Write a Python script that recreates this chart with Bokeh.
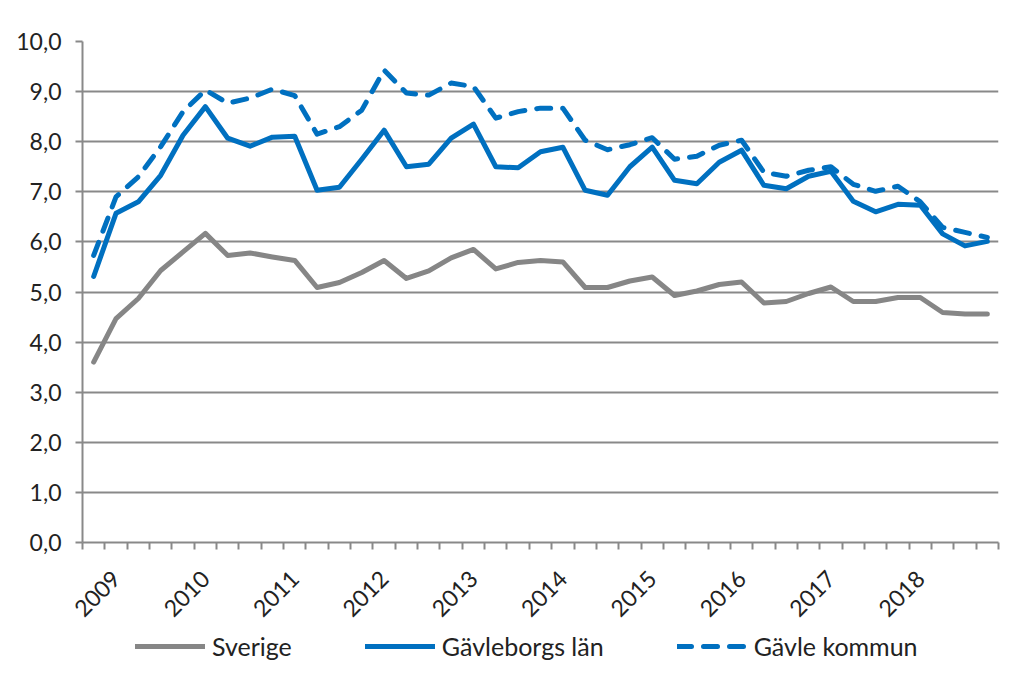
import math
from bokeh.plotting import figure
from bokeh.layouts import column
from bokeh.models import Range1d, FixedTicker, Legend, LegendItem
from bokeh.embed import file_html
from bokeh.resources import INLINE

# ---- data ----
years = ["2009", "2010", "2011", "2012", "2013", "2014", "2015", "2016", "2017", "2018"]
year_pos = [1, 5, 9, 13, 17, 21, 25, 29, 33, 37]
quarters = list(range(41))

sverige = [3.60, 4.47, 4.87, 5.43, 5.80, 6.17, 5.73, 5.78, 5.70, 5.63,
           5.09, 5.19, 5.39, 5.63, 5.27, 5.42, 5.68, 5.85, 5.46, 5.59,
           5.63, 5.60, 5.09, 5.09, 5.22, 5.30, 4.93, 5.02, 5.15, 5.20,
           4.78, 4.81, 4.97, 5.10, 4.81, 4.81, 4.89, 4.89, 4.59, 4.56, 4.56]
gavleborg = [5.31, 6.57, 6.80, 7.33, 8.13, 8.70, 8.07, 7.91, 8.09, 8.11,
             7.03, 7.09, 7.65, 8.23, 7.50, 7.55, 8.07, 8.35, 7.50, 7.48,
             7.80, 7.89, 7.03, 6.93, 7.50, 7.89, 7.23, 7.16, 7.59, 7.83,
             7.13, 7.06, 7.31, 7.41, 6.81, 6.60, 6.75, 6.73, 6.16, 5.92, 6.01]
gavle = [5.73, 6.90, 7.30, 7.90, 8.60, 9.03, 8.77, 8.87, 9.05, 8.92,
         8.15, 8.30, 8.63, 9.43, 8.97, 8.93, 9.17, 9.10, 8.47, 8.60,
         8.67, 8.67, 8.03, 7.84, 7.94, 8.08, 7.65, 7.71, 7.93, 8.03,
         7.39, 7.31, 7.43, 7.50, 7.15, 7.01, 7.11, 6.80, 6.29, 6.19, 6.09]
series_names = ["Sverige", "Gävleborgs län", "Gävle kommun"]

GRAY = "#868686"
BLUE = "#0070C0"
AXIS = "#898989"
TEXT = "#222222"
FONT = "Lato"
W = 1013
LW = 5

p = figure(width=W, height=630, output_backend="svg", toolbar_location=None,
           x_range=Range1d(-0.5, 40.5), y_range=Range1d(0, 10),
           min_border_left=82, min_border_right=15, min_border_top=41,
           min_border_bottom=88)
p.outline_line_color = None
p.background_fill_color = "white"
p.border_fill_color = "white"

# y axis
p.yaxis.ticker = FixedTicker(ticks=list(range(0, 11)))
p.yaxis.major_label_overrides = {i: f"{i},0" for i in range(0, 11)}
p.yaxis.axis_line_color = AXIS
p.yaxis.axis_line_width = 2
p.yaxis.major_tick_line_color = AXIS
p.yaxis.major_tick_line_width = 2
p.yaxis.major_tick_out = 7
p.yaxis.major_tick_in = 0
p.yaxis.minor_tick_line_color = None
p.yaxis.major_label_text_font = FONT
p.yaxis.major_label_text_font_size = "23px"
p.yaxis.major_label_text_color = TEXT
p.yaxis.major_label_standoff = 14

# x axis
p.xaxis.ticker = FixedTicker(ticks=year_pos, minor_ticks=[i - 0.5 for i in range(42)])
p.xaxis.major_label_overrides = {pos: y for pos, y in zip(year_pos, years)}
p.xaxis.major_label_orientation = math.pi / 4
p.xaxis.axis_line_color = AXIS
p.xaxis.axis_line_width = 2
p.xaxis.major_tick_line_color = None
p.xaxis.major_tick_out = 0
p.xaxis.major_tick_in = 0
p.xaxis.minor_tick_line_color = AXIS
p.xaxis.minor_tick_line_width = 2
p.xaxis.minor_tick_out = 7
p.xaxis.minor_tick_in = 0
p.xaxis.major_label_text_font = FONT
p.xaxis.major_label_text_font_size = "23px"
p.xaxis.major_label_text_color = TEXT
p.xaxis.major_label_standoff = 25

# grid
p.xgrid.grid_line_color = None
p.ygrid.ticker = FixedTicker(ticks=list(range(1, 11)))
p.ygrid.grid_line_color = AXIS
p.ygrid.grid_line_width = 2

line_styles = [dict(line_color=GRAY), dict(line_color=BLUE), dict(line_color=BLUE, line_dash="14 12")]
for vals, st in zip([sverige, gavleborg, gavle], line_styles):
    p.line(quarters, vals, line_width=LW, line_join="round", line_cap="round", **st)

# legend strip below the chart
q = figure(width=W, height=50, output_backend="svg", toolbar_location=None,
           x_axis_type=None, y_axis_type=None, x_range=Range1d(0, 1), y_range=Range1d(0, 1),
           min_border_left=0, min_border_right=0, min_border_top=0, min_border_bottom=0)
q.outline_line_color = None
q.grid.visible = False
q.background_fill_color = "white"
q.border_fill_color = "white"
items = []
nan = float("nan")
for name, st in zip(series_names, line_styles):
    r = q.line([nan], [nan], line_width=LW, line_join="round", line_cap="round", **st)
    items.append(LegendItem(label=name, renderers=[r]))
lg = Legend(items=items, location=(53, 19), orientation="horizontal", glyph_width=70,
            glyph_height=30, label_height=30, label_standoff=7, spacing=73, padding=0, margin=0,
            border_line_color=None, background_fill_alpha=0, label_text_font=FONT,
            label_text_font_size="25px", label_text_color=TEXT)
q.add_layout(lg, "center")

layout = column(p, q, spacing=0)
open("out.html", "w").write(file_html(layout, INLINE))
